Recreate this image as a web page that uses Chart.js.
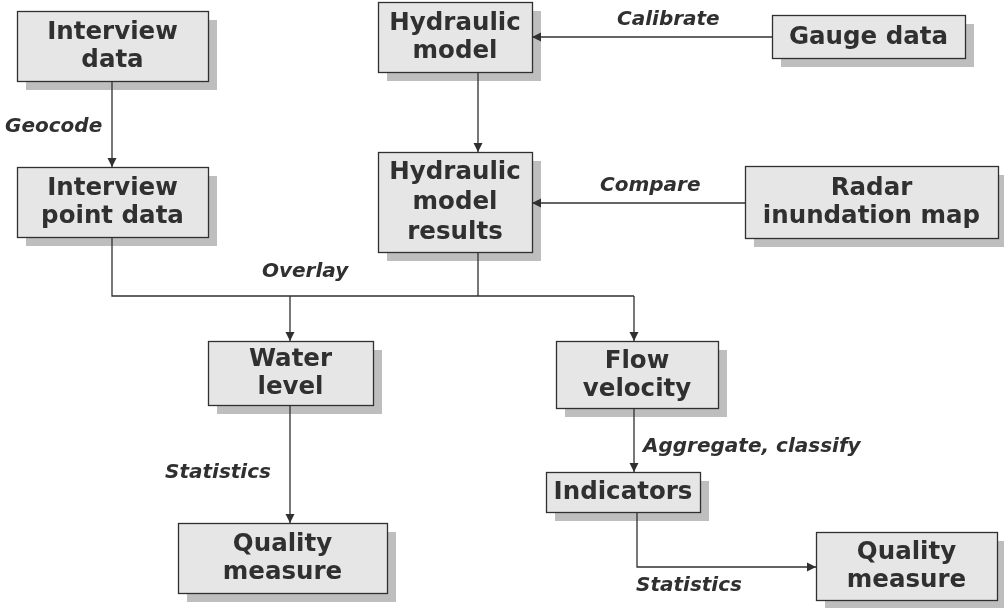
<!DOCTYPE html>
<html>
<head>
<meta charset="utf-8">
<script src="https://cdn.jsdelivr.net/npm/chart.js@4.4.1/dist/chart.umd.min.js"></script>
<style>
  html, body { margin: 0; padding: 0; background: #fff; }
  #wrap { width: 1004px; height: 608px; position: relative; }
</style>
</head>
<body>
<div id="wrap"><canvas id="flow"></canvas></div>
<script>
// ─── Diagram data (page pixel units) ─────────────────────────────────────────
const boxLabels = [
  ["Interview", "data"], ["Interview", "point data"], ["Hydraulic", "model"],
  ["Gauge data"], ["Hydraulic", "model", "results"], ["Radar", "inundation map"],
  ["Water", "level"], ["Flow", "velocity"], ["Indicators"],
  ["Quality", "measure"], ["Quality", "measure"]
];
const boxLeft   = [17, 17, 378, 772, 378, 745, 208, 556, 546, 178, 816];
const boxTop    = [11, 167, 2, 15, 152, 166, 341, 341, 472, 523, 532];
const boxRight  = [208, 208, 532, 965, 532, 998, 373, 718, 700, 387, 997];
const boxBottom = [81, 237, 72, 58, 252, 238, 405, 408, 512, 593, 600];

// connectors: polylines, arrow at the last point when flagged
const linkPaths = [
  [[112, 81], [112, 167]],
  [[478, 72], [478, 152]],
  [[772, 37], [532, 37]],
  [[745, 203], [532, 203]],
  [[112, 237], [112, 296], [634, 296]],
  [[478, 252], [478, 296]],
  [[290, 296], [290, 341]],
  [[634, 296], [634, 341]],
  [[290, 405], [290, 523]],
  [[634, 408], [634, 472]],
  [[637, 512], [637, 567], [816, 567]]
];
const linkArrow = [true, true, true, true, false, false, true, true, true, true, true];

const edgeLabels = ["Geocode", "Calibrate", "Compare", "Overlay", "Statistics", "Aggregate, classify", "Statistics"];
const edgeLabelX = [5, 617, 600, 262, 165, 643, 636];
const edgeLabelY = [127, 20, 186, 272, 473, 447, 586];

// ─── Drawing plugin ──────────────────────────────────────────────────────────
const INK = "#303030";

const flowPlugin = {
  id: "flow",
  beforeDatasetsDraw(chart) {
    const { ctx, scales: { x, y } } = chart;
    ctx.save();
    boxLabels.forEach((lines, i) => {
      const l = x.getPixelForValue(boxLeft[i]);
      const r = x.getPixelForValue(boxRight[i]);
      const t = y.getPixelForValue(boxTop[i]);
      const b = y.getPixelForValue(boxBottom[i]);
      // drop shadow
      ctx.fillStyle = "#bebebe";
      ctx.fillRect(l + 9, t + 9, r - l, b - t);
      ctx.fillStyle = "#e6e6e6";
      ctx.fillRect(l, t, r - l, b - t);
      ctx.strokeStyle = INK;
      ctx.lineWidth = 1.3;
      ctx.strokeRect(l + 0.5, t + 0.5, r - l, b - t);
      // label
      ctx.fillStyle = INK;
      ctx.font = "bold 24.5px 'DejaVu Sans', Verdana, sans-serif";
      ctx.textAlign = "center";
      ctx.textBaseline = "middle";
      const lh = lines.length > 2 ? 30 : 28;
      const cx = (l + r) / 2, cy = (t + b) / 2;
      lines.forEach((s, k) => {
        ctx.fillText(s, cx, cy + (k - (lines.length - 1) / 2) * lh + 1);
      });
    });
    ctx.restore();
  },
  afterDatasetsDraw(chart) {
    const { ctx, scales: { x, y } } = chart;
    ctx.save();
    ctx.fillStyle = INK;
    linkPaths.forEach((p, i) => {
      if (!linkArrow[i]) return;
      const a = p[p.length - 2], z = p[p.length - 1];
      const x0 = x.getPixelForValue(a[0]), y0 = y.getPixelForValue(a[1]);
      const x1 = x.getPixelForValue(z[0]), y1 = y.getPixelForValue(z[1]);
      const ang = Math.atan2(y1 - y0, x1 - x0);
      ctx.save();
      ctx.translate(x1, y1);
      ctx.rotate(ang);
      ctx.beginPath();
      ctx.moveTo(0, 0);
      ctx.lineTo(-9, -4.5);
      ctx.lineTo(-9, 4.5);
      ctx.closePath();
      ctx.fill();
      ctx.restore();
    });
    ctx.font = "italic bold 20px 'DejaVu Sans', Verdana, sans-serif";
    ctx.textAlign = "left";
    ctx.textBaseline = "middle";
    edgeLabels.forEach((s, i) => {
      ctx.fillText(s, x.getPixelForValue(edgeLabelX[i]), y.getPixelForValue(edgeLabelY[i]));
    });
    ctx.restore();
  }
};

// ─── Chart ───────────────────────────────────────────────────────────────────
const datasets = linkPaths.map(p => ({
  data: p.map(pt => ({ x: pt[0], y: pt[1] })),
  showLine: true,
  borderColor: INK,
  borderWidth: 1.3,
  pointRadius: 0,
  tension: 0
}));

new Chart(document.getElementById("flow"), {
  type: "scatter",
  data: { datasets },
  options: {
    responsive: true,
    maintainAspectRatio: false,
    animation: false,
    layout: { padding: 0 },
    plugins: { legend: { display: false }, tooltip: { enabled: false } },
    scales: {
      x: { type: "linear", min: 0, max: 1004, display: false },
      y: { type: "linear", min: 0, max: 608, reverse: true, display: false }
    }
  },
  plugins: [flowPlugin]
});
</script>
</body>
</html>
